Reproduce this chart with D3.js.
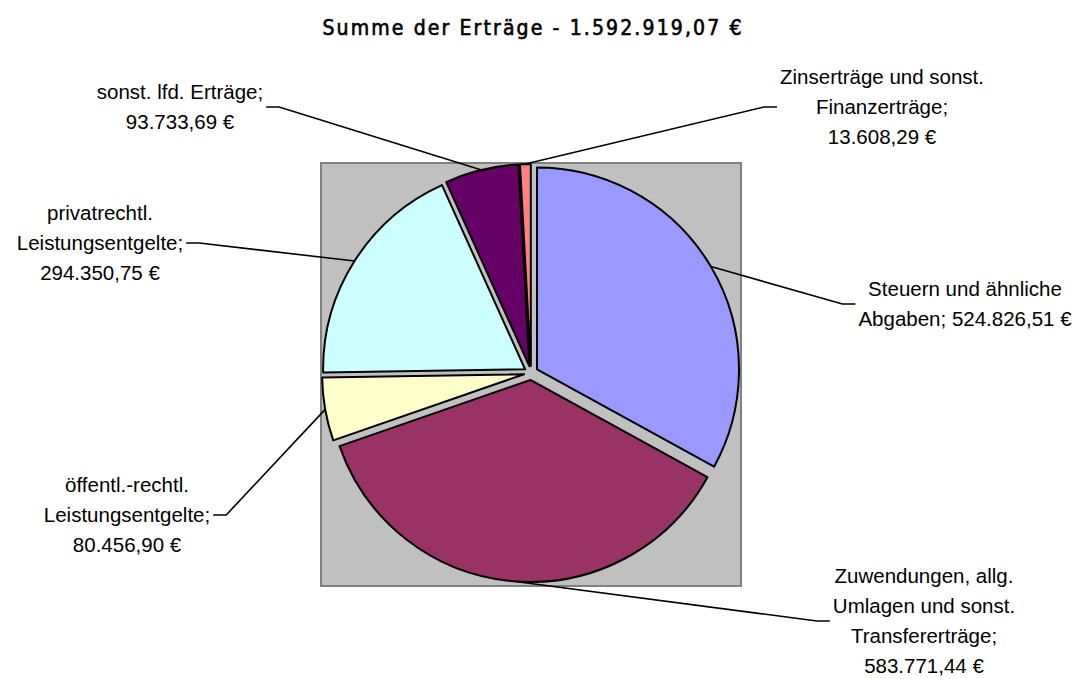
<!DOCTYPE html>
<html>
<head>
<meta charset="utf-8">
<script src="https://cdnjs.cloudflare.com/ajax/libs/d3/7.8.5/d3.min.js"></script>
<style>
  body { margin: 0; background: #fff; }
  text { font-family: "Liberation Sans", Arial, sans-serif; fill: #000; }
</style>
</head>
<body>
<div class="canvas"></div>
<script>
// data
const categories = [
  'Steuern und ähnliche Abgaben',
  'Zuwendungen, allg. Umlagen und sonst. Transfererträge',
  'öffentl.-rechtl. Leistungsentgelte',
  'privatrechtl. Leistungsentgelte',
  'sonst. lfd. Erträge',
  'Zinserträge und sonst. Finanzerträge'
];
const values = [524826.51, 583771.44, 80456.90, 294350.75, 93733.69, 13608.29];
const labelLines = [
  ['Steuern und ähnliche', 'Abgaben; 524.826,51 €'],
  ['Zuwendungen, allg.', 'Umlagen und sonst.', 'Transfererträge;', '583.771,44 €'],
  ['öffentl.-rechtl.', 'Leistungsentgelte;', '80.456,90 €'],
  ['privatrechtl.', 'Leistungsentgelte;', '294.350,75 €'],
  ['sonst. lfd. Erträge;', '93.733,69 €'],
  ['Zinserträge und sonst.', 'Finanzerträge;', '13.608,29 €']
];
const colors = ['#9999FF', '#993366', '#FFFFCC', '#CCFFFF', '#660066', '#FF8080'];
const title = 'Summe der Erträge - 1.592.919,07 €';

// graph setup
const dims = { width: 1078, height: 679 };
const plot = { x: 321, y: 163, w: 420, h: 423 };
const pieC = { x: 531, y: 373, r: 202, explode: 7 };

// label block placement (center x, center y, side the leader comes from)
const labelPos = [
  { x: 965, y: 304, side: 'right' },
  { x: 924, y: 621, side: 'right' },
  { x: 127, y: 515, side: 'left' },
  { x: 100, y: 243, side: 'left' },
  { x: 180, y: 107, side: 'left' },
  { x: 882, y: 107, side: 'right' }
];
const lineH = 30;

const svg = d3.select('.canvas')
  .append('svg')
  .attr('width', dims.width)
  .attr('height', dims.height);

// title
svg.append('text')
  .attr('x', 532)
  .attr('y', 35)
  .attr('text-anchor', 'middle')
  .attr('textLength', 419)
  .attr('lengthAdjust', 'spacing')
  .style('font-family', '"DejaVu Sans Condensed", "DejaVu Sans", sans-serif')
  .style('font-size', '21px')
  .style('stroke', '#000')
  .style('stroke-width', 0.6)
  .text(title);

// plot area
svg.append('rect')
  .attr('x', plot.x)
  .attr('y', plot.y)
  .attr('width', plot.w)
  .attr('height', plot.h)
  .attr('fill', '#C0C0C0')
  .attr('stroke', '#808080')
  .attr('stroke-width', 2);

const pie = d3.pie().sort(null).value(d => d);
const arcs = pie(values);
const arc = d3.arc().innerRadius(0).outerRadius(pieC.r);

const graph = svg.append('g')
  .attr('transform', `translate(${pieC.x},${pieC.y})`);

const mid = d => (d.startAngle + d.endAngle) / 2;

graph.selectAll('.slice')
  .data(arcs)
  .enter()
  .append('path')
    .attr('class', 'slice')
    .attr('transform', d => {
      const a = mid(d);
      return `translate(${pieC.explode * Math.sin(a)},${-pieC.explode * Math.cos(a)})`;
    })
    .attr('fill', (d, i) => colors[i])
    .attr('stroke', '#000')
    .attr('stroke-width', 2)
    .attr('stroke-linejoin', 'round')
    .attr('d', arc);

// labels
const labels = svg.selectAll('.label')
  .data(arcs)
  .enter()
  .append('g')
    .attr('class', 'label');

labels.each(function(d, i) {
  const g = d3.select(this);
  const lines = labelLines[i];
  const pos = labelPos[i];
  const top = pos.y - (lines.length - 1) * lineH / 2;
  let maxW = 0;
  lines.forEach((ln, k) => {
    const t = g.append('text')
      .attr('x', pos.x)
      .attr('y', top + k * lineH)
      .attr('dy', '0.35em')
      .attr('text-anchor', 'middle')
      .style('font-size', '20.5px')
      .text(ln);
    maxW = Math.max(maxW, t.node().getComputedTextLength());
  });

  // leader line
  const a = mid(d);
  const rr = pieC.r + pieC.explode;
  const p0 = [pieC.x + rr * Math.sin(a), pieC.y - rr * Math.cos(a)];
  const endX = pos.side === 'right' ? pos.x - maxW / 2 - 3 : pos.x + maxW / 2 + 3;
  const elbowX = pos.side === 'right' ? endX - 13 : endX + 13;
  g.append('path')
    .attr('fill', 'none')
    .attr('stroke', '#000')
    .attr('stroke-width', 1.6)
    .attr('d', d3.line()([p0, [elbowX, pos.y], [endX, pos.y]]));
});
</script>
</body>
</html>
